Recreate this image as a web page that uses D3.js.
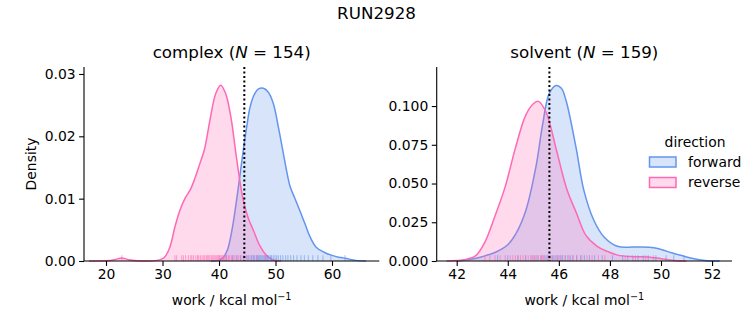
<!DOCTYPE html>
<html><head><meta charset="utf-8">
<script src="https://cdn.jsdelivr.net/npm/d3@7"></script>
<style>body{margin:0;background:#fff}svg{font-family:"DejaVu Sans",sans-serif}</style>
</head><body>
<script>
// ---- data ----
const chartTitle = "RUN2928";
const directions = ["forward", "reverse"];
const colors = {forward: "#6495ED", reverse: "#FF69B4"};

// complex panel: KDE curves
const complexFwdWork = [38.5,40,40.7,41.5,42.3,43.1,43.7,44.3,44.9,45.5,46.3,47.0,47.85,48.7,49.6,50.5,51.4,52.0,52.6,53.4,54.3,55.2,56.1,57.2,58.5,60.0,61.2,62.0,63.0,64.2,66];
const complexFwdDens = [0,0.0001,0.0005,0.0018,0.0050,0.0097,0.0137,0.0178,0.0215,0.0247,0.0268,0.0276,0.0277,0.0271,0.0253,0.0215,0.0172,0.0143,0.0119,0.0101,0.0081,0.0060,0.0039,0.0022,0.00145,0.0009,0.0006,0.0005,0.0003,0.0001,0];
const complexRevWork = [17,20,21.5,22.8,24,25.5,27.5,29.0,29.8,30.44,31.33,32.2,33.1,34.0,34.9,35.75,36.64,37.4,38.5,39.4,40.3,41.2,42.1,43.0,43.7,44.3,45.2,46.1,47.2,48.4,49.5,51];
const complexRevDens = [0,0.00003,0.0002,0.0005,0.0002,0.00003,0,0.0001,0.0003,0.0007,0.0023,0.0055,0.0082,0.0101,0.0114,0.0133,0.0157,0.0178,0.0231,0.0268,0.0282,0.0268,0.0231,0.0172,0.0128,0.0097,0.0068,0.0049,0.0025,0.0009,0.0002,0];
// complex panel: rug samples
const complexFwdRug = [41.3,42.4,43.2,43.8,44.3,44.8,45.2,45.5,45.8,46.1,46.3,46.6,46.8,47.0,47.2,47.4,47.6,47.8,48.0,48.2,48.4,48.6,48.8,49.1,49.3,49.6,49.9,50.2,50.5,50.9,51.3,51.8,52.2,52.7,53.2,53.8,54.5,55.1,55.8,56.6,57.5,58.4,59.8,62.3];
const complexRevRug = [22.8,32.2,32.5,33.4,33.7,34.1,34.6,35.0,35.2,35.5,35.9,36.2,36.4,36.7,37.0,37.3,37.5,37.8,38.0,38.2,38.4,38.7,38.9,39.1,39.3,39.5,39.7,39.9,40.1,40.2,40.4,40.6,40.8,41.0,41.2,41.4,41.7,41.9,42.2,42.5,42.8,43.1,43.5,43.9,44.4,45.0,45.8,46.7,48.2];
const complexMean = 44.48;

// solvent panel: KDE curves
const solventFwdWork = [42.0,42.5,43.0,43.54,44.0,44.32,44.71,45.1,45.37,45.62,45.89,46.1,46.28,46.67,46.98,47.37,47.77,48.29,48.94,49.72,50.24,50.77,51.29,51.8,52.3];
const solventFwdDens = [0,0.001,0.0028,0.0058,0.0105,0.0176,0.0327,0.0606,0.0886,0.108,0.1133,0.1115,0.1037,0.0735,0.0456,0.0263,0.0155,0.0095,0.009,0.0086,0.0062,0.0037,0.0015,0.0002,0];
const solventRevWork = [41.6,42.0,42.4,42.75,43.1,43.5,43.9,44.3,44.7,45.0,45.2,45.5,45.9,46.3,46.7,47.06,47.5,47.9,48.3,48.9,49.5,50.0,50.5,51];
const solventRevDens = [0,0.0003,0.0012,0.0035,0.012,0.029,0.048,0.073,0.094,0.1015,0.103,0.096,0.072,0.047,0.0305,0.0165,0.0095,0.0062,0.0038,0.0028,0.0026,0.0015,0.0004,0];
// solvent panel: rug samples
const solventFwdRug = [43.6,44.0,44.4,44.7,44.95,45.15,45.3,45.45,45.55,45.65,45.75,45.85,45.95,46.05,46.15,46.25,46.35,46.45,46.55,46.7,46.85,47.0,47.2,47.4,47.7,48.1,48.5,48.7,48.9,49.1,49.3,49.5,49.8,50.2,50.5,50.9];
const solventRevRug = [43.1,43.3,43.5,43.7,43.9,44.1,44.2,44.3,44.4,44.5,44.6,44.7,44.8,44.9,45.0,45.05,45.1,45.2,45.3,45.35,45.4,45.5,45.6,45.7,45.8,45.9,46.0,46.1,46.25,46.4,46.55,46.7,46.9,47.1,47.3,47.55,47.8,48.6,49.0,49.4,49.7];
const solventMean = 45.63;

const complexXTicks = [20,30,40,50,60];
const complexYTicks = [0,0.01,0.02,0.03];
const solventXTicks = [42,44,46,48,50,52];
const solventYTicks = [0,0.025,0.05,0.075,0.1];

// ---- drawing ----
const W = 753, H = 325;
const svg = d3.select("body").append("svg").attr("width", W).attr("height", H);

svg.append("text").attr("x", 376.5).attr("y", 19).attr("text-anchor", "middle")
  .attr("font-size", 16.7).text(chartTitle);

function panel(opt) {
  const x = d3.scaleLinear().domain(opt.xDomain).range([opt.left, opt.right]);
  const y = d3.scaleLinear().domain(opt.yDomain).range([261, 67]);
  const g = svg.append("g");
  const curve = d3.curveCatmullRom.alpha(0.5);
  const area = d3.area().x(d => x(d[0])).y0(y(0)).y1(d => Math.min(y(0), y(d[1]))).curve(curve);
  const line = d3.line().x(d => x(d[0])).y(d => y(d[1])).curve(curve);

  opt.series.forEach(s => {
    const pts = s.work.map((w, i) => [w, s.dens[i]]);
    g.append("path").attr("d", area(pts)).attr("fill", colors[s.dir]).attr("fill-opacity", 0.25);
    g.append("path").attr("d", line(pts)).attr("fill", "none").attr("stroke", colors[s.dir]).attr("stroke-width", 1.5);
  });
  opt.series.forEach(s => {
    g.selectAll(null).data(s.rug).enter().append("line")
      .attr("x1", d => x(d)).attr("x2", d => x(d))
      .attr("y1", 261).attr("y2", 255.2)
      .attr("stroke", colors[s.dir]).attr("stroke-width", 1).attr("stroke-opacity", 0.6);
  });

  g.append("line").attr("x1", x(opt.mean)).attr("x2", x(opt.mean))
    .attr("y1", 67).attr("y2", 261).attr("stroke", "#000")
    .attr("stroke-width", 2).attr("stroke-dasharray", "2,2.5");

  const xa = g.append("g").attr("transform", "translate(0,261)")
    .call(d3.axisBottom(x).tickValues(opt.xTicks).tickSize(4.9).tickPadding(3.5).tickFormat(d3.format("d")));
  const ya = g.append("g").attr("transform", `translate(${opt.left},0)`)
    .call(d3.axisLeft(y).tickValues(opt.yTicks).tickSize(4.9).tickPadding(3.5).tickFormat(d3.format(opt.yFmt)));
  [xa, ya].forEach(a => {
    a.select(".domain").attr("stroke-width", 1.1);
    a.selectAll(".tick line").attr("stroke-width", 1.1);
    a.selectAll("text").attr("font-size", 13.9).attr("font-family", "DejaVu Sans").attr("fill", "#000");
  });
  xa.select(".domain").attr("d", `M${opt.left},0H${opt.right}`);
  ya.select(".domain").attr("d", `M0,261V67`);

  const cx = (opt.left + opt.right) / 2;
  const t = g.append("text").attr("x", cx).attr("y", 58).attr("text-anchor", "middle").attr("font-size", 16.7);
  t.append("tspan").text(opt.name + " (");
  t.append("tspan").attr("font-style", "italic").text("N");
  t.append("tspan").text(" = " + opt.n + ")");

  const xl = g.append("text").attr("x", cx).attr("y", 305).attr("text-anchor", "middle").attr("font-size", 13.9);
  xl.append("tspan").text("work / kcal mol");
  xl.append("tspan").attr("dy", -5.5).attr("font-size", 9.7).text("\u22121");
  return g;
}

panel({name: "complex", n: 154, left: 84, right: 379.3, xDomain: [16.106, 68.37], yDomain: [0, 0.03112],
  xTicks: complexXTicks, yTicks: complexYTicks, yFmt: ".2f", mean: complexMean,
  series: [
    {dir: "forward", work: complexFwdWork, dens: complexFwdDens, rug: complexFwdRug},
    {dir: "reverse", work: complexRevWork, dens: complexRevDens, rug: complexRevRug}]});

panel({name: "solvent", n: 159, left: 436.7, right: 732, xDomain: [41.217, 52.78], yDomain: [0, 0.1252],
  xTicks: solventXTicks, yTicks: solventYTicks, yFmt: ".3f", mean: solventMean,
  series: [
    {dir: "forward", work: solventFwdWork, dens: solventFwdDens, rug: solventFwdRug},
    {dir: "reverse", work: solventRevWork, dens: solventRevDens, rug: solventRevRug}]});

svg.append("text").attr("x", 31).attr("y", 164).attr("text-anchor", "middle")
  .attr("transform", "rotate(-90,31,164)").attr("dy", "0.35em").attr("font-size", 13.9).text("Density");

// legend
const lg = svg.append("g");
lg.append("text").attr("x", 695).attr("y", 146.5).attr("text-anchor", "middle").attr("font-size", 13.9).text("direction");
directions.forEach((d, i) => {
  const yy = 157 + i * 20.5;
  lg.append("rect").attr("x", 649.5).attr("y", yy).attr("width", 26.5).attr("height", 10)
    .attr("fill", colors[d]).attr("fill-opacity", 0.25).attr("stroke", colors[d]).attr("stroke-width", 1.5);
  lg.append("text").attr("x", 688).attr("y", yy + 5).attr("dy", "0.35em").attr("font-size", 13.9).text(d);
});
</script>
</body></html>
